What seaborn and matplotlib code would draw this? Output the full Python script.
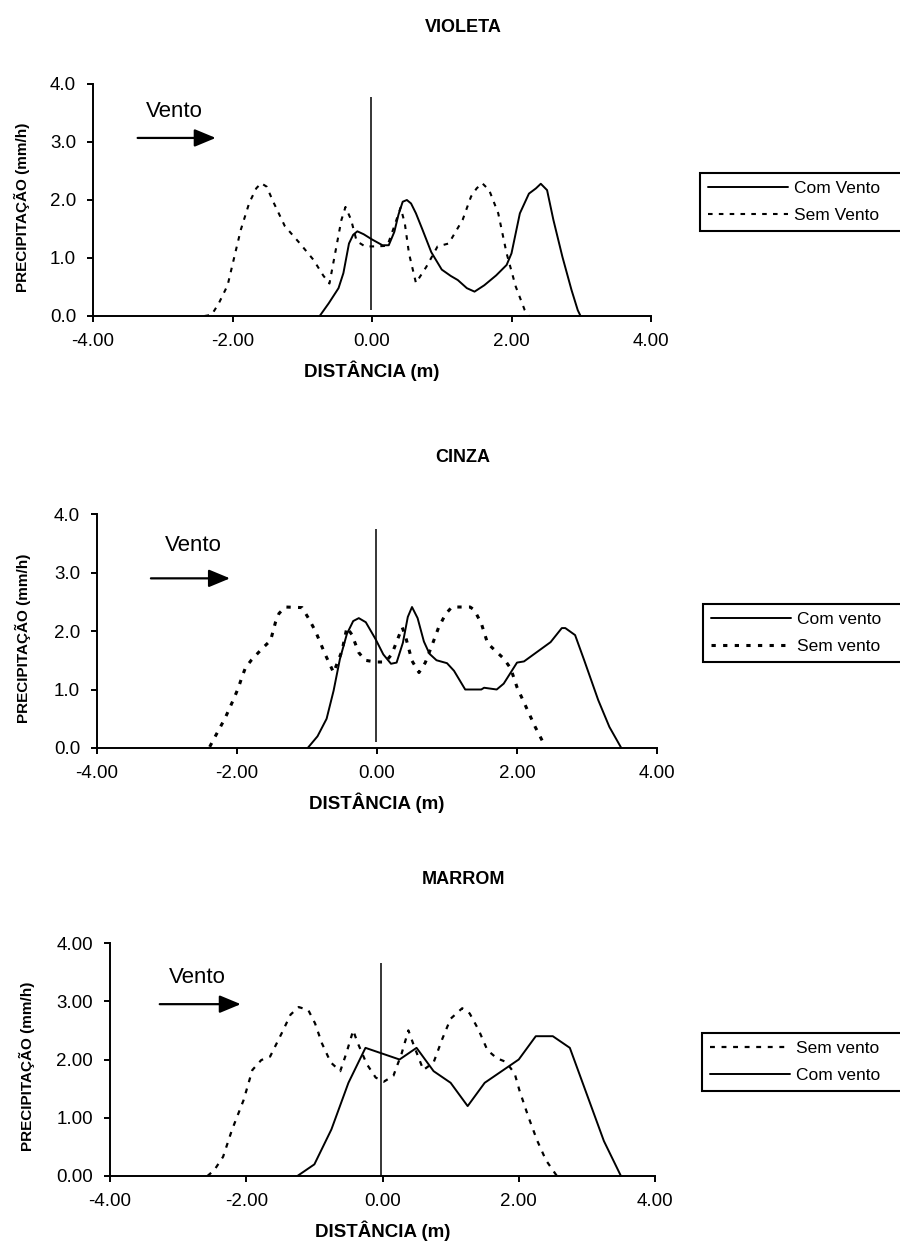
import matplotlib
matplotlib.use("Agg")
import matplotlib.pyplot as plt
import seaborn as sns
from matplotlib.ticker import FormatStrFormatter

# ---------------- data ----------------
titles = ["VIOLETA", "CINZA", "MARROM"]
x_ticks = [-4, -2, 0, 2, 4]
y_ticks = [0, 1, 2, 3, 4]

violeta_com_x = [-0.75, -0.62, -0.48, -0.41, -0.33, -0.27, -0.21, -0.12, 0.00, 0.15, 0.24, 0.32,
                 0.38, 0.44, 0.50, 0.56, 0.63, 0.72, 0.85, 1.00, 1.13, 1.23, 1.36, 1.47, 1.61,
                 1.78, 1.93, 2.00, 2.12, 2.25, 2.35, 2.42, 2.51, 2.60, 2.73, 2.86, 2.95, 2.99]
violeta_com_y = [0.00, 0.22, 0.48, 0.74, 1.25, 1.40, 1.46, 1.41, 1.32, 1.22, 1.22, 1.45,
                 1.75, 1.97, 2.00, 1.94, 1.77, 1.50, 1.10, 0.80, 0.69, 0.62, 0.48, 0.42, 0.53,
                 0.70, 0.88, 1.08, 1.77, 2.11, 2.20, 2.28, 2.17, 1.66, 1.02, 0.45, 0.10, 0.00]
violeta_sem_x = [-2.40, -2.30, -2.20, -2.07, -1.95, -1.88, -1.76, -1.66, -1.59, -1.51, -1.42,
                 -1.25, -1.04, -0.84, -0.70, -0.61, -0.51, -0.44, -0.38, -0.30, -0.22, -0.10,
                 0.05, 0.22, 0.32, 0.41, 0.47, 0.53, 0.63, 0.78, 0.94, 1.10, 1.30, 1.42, 1.50,
                 1.58, 1.68, 1.81, 1.93, 2.06, 2.19, 2.25]
violeta_sem_y = [0.00, 0.02, 0.21, 0.53, 1.14, 1.49, 1.95, 2.20, 2.29, 2.23, 1.98,
                 1.55, 1.26, 0.97, 0.70, 0.56, 1.20, 1.65, 1.88, 1.66, 1.29, 1.20,
                 1.20, 1.21, 1.55, 1.87, 1.60, 1.08, 0.57, 0.85, 1.20, 1.25, 1.66, 2.06, 2.20,
                 2.29, 2.17, 1.77, 1.08, 0.51, 0.10, 0.00]

cinza_com_x = [-0.99, -0.85, -0.72, -0.62, -0.53, -0.43, -0.34, -0.26, -0.16, -0.02, 0.09, 0.20,
               0.28, 0.37, 0.44, 0.50, 0.58, 0.67, 0.75, 0.85, 1.00, 1.10, 1.26, 1.49, 1.53,
               1.71, 1.81, 2.00, 2.10, 2.48, 2.64, 2.69, 2.83, 2.96, 3.16, 3.32, 3.49]
cinza_com_y = [0.00, 0.20, 0.50, 0.98, 1.52, 1.95, 2.17, 2.22, 2.15, 1.86, 1.60, 1.44,
               1.46, 1.80, 2.24, 2.41, 2.22, 1.82, 1.61, 1.50, 1.45, 1.32, 1.00, 1.00, 1.03,
               1.00, 1.10, 1.46, 1.48, 1.81, 2.05, 2.05, 1.93, 1.50, 0.82, 0.36, 0.00]
cinza_sem_x = [-2.39, -2.31, -2.17, -2.05, -1.98, -1.93, -1.88, -1.79, -1.64, -1.52, -1.45,
               -1.40, -1.31, -1.07, -0.98, -0.88, -0.74, -0.62, -0.50, -0.43, -0.36, -0.26,
               -0.17, -0.02, 0.12, 0.21, 0.36, 0.40, 0.50, 0.60, 0.69, 0.79, 0.88, 0.98, 1.07,
               1.33, 1.39, 1.49, 1.58, 1.71, 1.81, 1.91, 2.00, 2.13, 2.26, 2.38]
cinza_sem_y = [0.02, 0.20, 0.51, 0.83, 1.03, 1.21, 1.37, 1.51, 1.70, 1.84, 2.15,
               2.30, 2.41, 2.40, 2.22, 2.00, 1.60, 1.29, 1.66, 2.06, 1.94, 1.63,
               1.50, 1.47, 1.47, 1.60, 2.06, 1.94, 1.49, 1.29, 1.46, 1.77, 2.06, 2.29, 2.41,
               2.41, 2.36, 2.13, 1.79, 1.64, 1.53, 1.36, 1.04, 0.70, 0.36, 0.08]

marrom_com_x = [-1.25, -1.00, -0.75, -0.50, -0.25, 0.00, 0.25, 0.50, 0.75, 1.00, 1.25, 1.50,
                1.75, 2.00, 2.25, 2.50, 2.75, 3.00, 3.25, 3.50]
marrom_com_y = [0.00, 0.20, 0.80, 1.60, 2.20, 2.10, 2.00, 2.20, 1.80, 1.60, 1.20, 1.60,
                1.80, 2.00, 2.40, 2.40, 2.20, 1.40, 0.60, 0.00]
marrom_sem_x = [-2.57, -2.47, -2.34, -2.21, -2.04, -1.91, -1.78, -1.65, -1.48, -1.35, -1.23,
                -1.09, -0.99, -0.89, -0.76, -0.62, -0.53, -0.43, -0.37, -0.23, -0.10, 0.02,
                0.16, 0.28, 0.38, 0.46, 0.60, 0.75, 0.88, 1.00, 1.17, 1.28, 1.41, 1.54, 1.68,
                1.81, 1.94, 2.01, 2.14, 2.27, 2.40, 2.56]
marrom_sem_y = [0.00, 0.10, 0.33, 0.79, 1.30, 1.82, 1.99, 2.05, 2.45, 2.77, 2.90,
                2.85, 2.62, 2.28, 1.95, 1.80, 2.11, 2.50, 2.30, 1.92, 1.69, 1.62,
                1.72, 2.10, 2.50, 2.24, 1.82, 1.95, 2.36, 2.70, 2.88, 2.79, 2.51, 2.16, 2.02,
                1.96, 1.76, 1.47, 1.02, 0.61, 0.27, 0.00]

# ---------------- style ----------------
sns.set_theme(style="ticks")
plt.rcParams["font.family"] = ["Liberation Sans", "DejaVu Sans"]
plt.rcParams.update({
    "axes.edgecolor": "black",
    "axes.linewidth": 1.4,
    "xtick.color": "black",
    "ytick.color": "black",
    "text.color": "black",
    "axes.labelcolor": "black",
})

W, H = 900, 1243
fig = plt.figure(figsize=(W / 100, H / 100), dpi=100)
fig.patch.set_facecolor("white")


def add_axes_px(left, top, right, bottom):
    return fig.add_axes([left / W, 1 - bottom / H, (right - left) / W, (bottom - top) / H])


panels = [
    dict(title=titles[0], title_y=28, box=(93, 84, 651, 316), yfmt="%.1f",
         series=[("Com Vento", violeta_com_x, violeta_com_y, "-", 1.4),
                 ("Sem Vento", violeta_sem_x, violeta_sem_y, (0, (2.2, 3.0)), 1.5)],
         vline=(0.10, 3.78), ylab_x=22,
         vento=(-2.84, 3.52), arrow=(-3.36, -2.24, 3.07),
         legend=(700, 173)),
    dict(title=titles[1], title_y=458, box=(97, 514, 657, 748), yfmt="%.1f",
         series=[("Com vento", cinza_com_x, cinza_com_y, "-", 1.4),
                 ("Sem vento", cinza_sem_x, cinza_sem_y, (0, (1.4, 2.4)), 2.2)],
         vline=(0.10, 3.74), ylab_x=23,
         vento=(-2.62, 3.47), arrow=(-3.23, -2.10, 2.90),
         legend=(703, 604)),
    dict(title=titles[2], title_y=880, box=(110, 943, 655, 1176), yfmt="%.2f",
         series=[("Sem vento", marrom_sem_x, marrom_sem_y, (0, (2.2, 3.0)), 1.6),
                 ("Com vento", marrom_com_x, marrom_com_y, "-", 1.4)],
         vline=(0.0, 3.66), ylab_x=27,
         vento=(-2.72, 3.41), arrow=(-3.27, -2.08, 2.95),
         legend=(702, 1033)),
]

for p in panels:
    left, top, right, bottom = p["box"]
    ax = add_axes_px(left, top, right, bottom)
    ax.set_facecolor("white")

    for label, xs, ys, ls, lw in p["series"]:
        sns.lineplot(x=xs, y=ys, ax=ax, color="black", linestyle=ls, linewidth=lw,
                     sort=False, estimator=None, label=label)

    # centre line of the sprinkler
    ax.vlines(-0.02, p["vline"][0], p["vline"][1], color="black", linewidth=1.1)

    # wind direction marker
    ax.text(p["vento"][0], p["vento"][1], "Vento", ha="center", va="center", fontsize=16)
    x0, x1, ay = p["arrow"]
    ax.annotate("", xy=(x1, ay), xytext=(x0, ay),
                arrowprops=dict(arrowstyle="-|>,head_length=0.65,head_width=0.27",
                                color="black", lw=1.6, mutation_scale=20,
                                shrinkA=0, shrinkB=0))

    ax.set_xlim(-4, 4)
    ax.set_ylim(0, 4)
    ax.set_xticks(x_ticks)
    ax.set_yticks(y_ticks)
    ax.xaxis.set_major_formatter(FormatStrFormatter("%.2f"))
    ax.yaxis.set_major_formatter(FormatStrFormatter(p["yfmt"]))
    sns.despine(ax=ax)
    ax.tick_params(axis="both", direction="out", length=4.2, width=1.4, labelsize=13.5)
    ax.tick_params(axis="x", pad=8)
    ax.tick_params(axis="y", pad=8)

    ax.set_xlabel("DISTÂNCIA (m)", fontsize=13.5, fontweight="bold")
    ax.xaxis.label.set_va("center")
    ax.xaxis.set_label_coords(0.5, -55 / (bottom - top))
    ax.set_ylabel("PRECIPITAÇÃO (mm/h)", fontsize=11, fontweight="bold")
    ax.yaxis.label.set_va("center")
    ax.yaxis.set_label_coords((p["ylab_x"] - left) / (right - left), 0.47)

    lx, ly = p["legend"]
    handles, labels = ax.get_legend_handles_labels()
    leg = ax.legend(handles, labels, loc="upper left",
                    bbox_to_anchor=(lx / W, 1 - ly / H, (960 - lx) / W, 0.0),
                    bbox_transform=fig.transFigure, mode="expand", borderaxespad=0,
                    fontsize=12.5, handlelength=4.6, handletextpad=0.35,
                    borderpad=0.47, labelspacing=0.66, fancybox=False,
                    frameon=True, framealpha=1, edgecolor="black")
    leg.get_frame().set_linewidth(1.5)

    fig.text(463 / W, 1 - p["title_y"] / H, p["title"], ha="center", va="center",
             fontsize=13, fontweight="bold")

fig.savefig("out.png", dpi=100, facecolor="white")
